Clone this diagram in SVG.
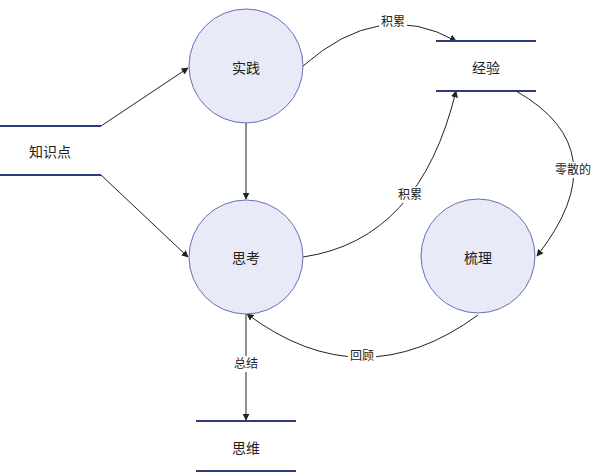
<svg xmlns="http://www.w3.org/2000/svg" width="597" height="472" viewBox="0 0 597 472">
<style>
.proc{fill:#e8eaf7;stroke:#6670b5;stroke-width:1}
.store{stroke:#2e3b78;stroke-width:2}
.t{font-family:"Liberation Sans","Noto Sans CJK SC",sans-serif;font-size:14px;fill:#222;text-anchor:middle;dominant-baseline:central}
.lbl{font-family:"Liberation Sans","Noto Sans CJK SC",sans-serif;font-size:12px;fill:#222;text-anchor:middle;dominant-baseline:central}
.c{fill:none;stroke:#222;stroke-width:1}
</style>
<defs>
<marker id="a" viewBox="0 0 10 10" refX="9" refY="5" markerWidth="7" markerHeight="7" orient="auto" markerUnits="userSpaceOnUse"><path d="M0,0L10,5L0,10z" fill="#222"/></marker>
</defs>
<rect width="597" height="472" fill="#fff"/>
<g id="connectors">
<path class="c" d="M101,126L188,68" marker-end="url(#a)"/>
<path class="c" d="M101,175L188,257" marker-end="url(#a)"/>
<path class="c" d="M246,123L246,199" marker-end="url(#a)"/>
<path class="c" d="M303,66Q380,-2 456,41" marker-end="url(#a)"/>
<path class="c" d="M303,257Q420,240 456,91" marker-end="url(#a)"/>
<path class="c" d="M516,91Q620,150 537,256" marker-end="url(#a)"/>
<path class="c" d="M478,315Q362,400 247,314" marker-end="url(#a)"/>
<path class="c" d="M246,314L246,420" marker-end="url(#a)"/>
<rect x="379" y="14" width="28" height="16" fill="#fff"/>
<text class="lbl" x="393" y="22">积累</text>
<rect x="396" y="187" width="28" height="16" fill="#fff"/>
<text class="lbl" x="410" y="195">积累</text>
<rect x="552" y="162" width="42" height="16" fill="#fff"/>
<text class="lbl" x="573" y="170">零散的</text>
<rect x="348" y="348" width="28" height="16" fill="#fff"/>
<text class="lbl" x="362" y="356">回顾</text>
<rect x="232" y="356" width="28" height="16" fill="#fff"/>
<text class="lbl" x="246" y="364">总结</text>
</g>
<g id="zhishidian">
<line class="store" x1="0" y1="126" x2="101" y2="126"/>
<line class="store" x1="0" y1="175" x2="101" y2="175"/>
<text class="t" x="50" y="152">知识点</text>
</g>
<g id="shijian">
<circle class="proc" cx="246" cy="66" r="57"/>
<text class="t" x="246" y="68">实践</text>
</g>
<g id="sikao">
<circle class="proc" cx="246" cy="257" r="57"/>
<text class="t" x="246" y="258">思考</text>
</g>
<g id="shuli">
<circle class="proc" cx="478" cy="256" r="57"/>
<text class="t" x="478" y="258">梳理</text>
</g>
<g id="jingyan">
<line class="store" x1="436" y1="41" x2="536" y2="41"/>
<line class="store" x1="436" y1="91" x2="536" y2="91"/>
<text class="t" x="486" y="68">经验</text>
</g>
<g id="siwei">
<line class="store" x1="196" y1="421" x2="296" y2="421"/>
<line class="store" x1="196" y1="471" x2="296" y2="471"/>
<text class="t" x="246" y="448">思维</text>
</g>
</svg>
